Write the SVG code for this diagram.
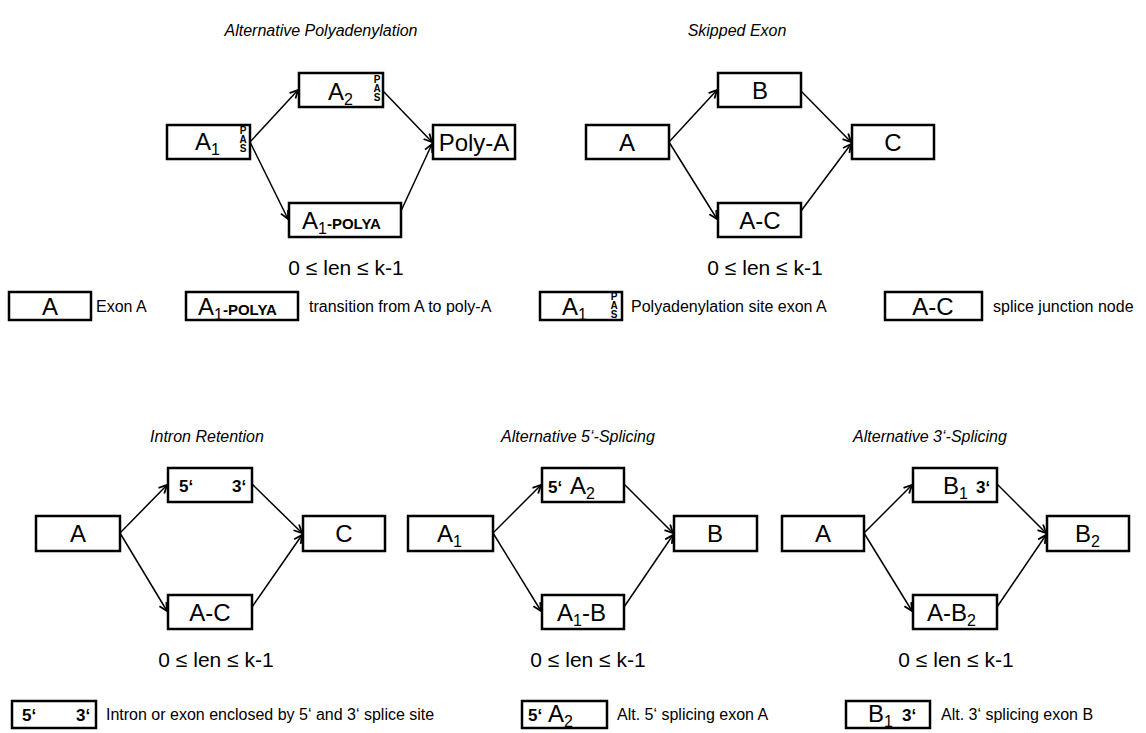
<svg xmlns="http://www.w3.org/2000/svg" width="1146" height="733" viewBox="0 0 1146 733">
<defs>
<style>
.bg{fill:#fff}
.box{fill:#fff;stroke:#000;stroke-width:2.5}
.lbl{font-family:"Liberation Sans",Arial,sans-serif;font-size:24px;fill:#000}
.mid{text-anchor:middle}
.pas{font-family:"Liberation Sans",Arial,sans-serif;font-size:10px;font-weight:bold;text-anchor:middle;fill:#000}
.ss{font-family:"Liberation Sans",Arial,sans-serif;font-size:17px;font-weight:bold;fill:#000}
.py{font-family:"Liberation Sans",Arial,sans-serif;font-size:15px;font-weight:bold}
.title{font-family:"Liberation Sans",Arial,sans-serif;font-size:16px;font-style:italic;text-anchor:middle;fill:#000}
.len{font-family:"Liberation Sans",Arial,sans-serif;font-size:21px;text-anchor:middle;fill:#000}
.leg{font-family:"Liberation Sans",Arial,sans-serif;font-size:16px;fill:#000}
.edge{stroke:#000;stroke-width:1.5;fill:none;marker-end:url(#arr)}
</style>
<marker id="arr" viewBox="0 0 10 10" refX="9" refY="5" markerWidth="10" markerHeight="10" orient="auto" markerUnits="userSpaceOnUse">
<path d="M1,1 L9,5 L1,9" fill="none" stroke="#000" stroke-width="1.8"/>
</marker>
</defs>
<rect class="bg" x="0" y="0" width="1146" height="733"/>

<g id="titles">
<text class="title" x="321" y="36">Alternative Polyadenylation</text>
<text class="title" x="737" y="36">Skipped Exon</text>
<text class="title" x="207" y="442">Intron Retention</text>
<text class="title" x="578" y="442">Alternative 5‘-Splicing</text>
<text class="title" x="930" y="442">Alternative 3‘-Splicing</text>
<text class="len" x="346" y="275">0 ≤ len ≤ k-1</text>
<text class="len" x="765" y="275">0 ≤ len ≤ k-1</text>
<text class="len" x="216" y="667">0 ≤ len ≤ k-1</text>
<text class="len" x="588" y="667">0 ≤ len ≤ k-1</text>
<text class="len" x="956" y="667">0 ≤ len ≤ k-1</text>
</g>

<g id="connectors">
<line class="edge" x1="250" y1="142" x2="298" y2="90"/>
<line class="edge" x1="250" y1="142" x2="288" y2="219"/>
<line class="edge" x1="383" y1="91" x2="432" y2="142"/>
<line class="edge" x1="401" y1="211" x2="432" y2="144"/>

<line class="edge" x1="669" y1="142" x2="717" y2="90"/>
<line class="edge" x1="669" y1="142" x2="717" y2="219"/>
<line class="edge" x1="801" y1="91" x2="851" y2="142"/>
<line class="edge" x1="801" y1="211" x2="851" y2="144"/>

<line class="edge" x1="120" y1="533" x2="167" y2="485"/>
<line class="edge" x1="120" y1="533" x2="167" y2="611"/>
<line class="edge" x1="252" y1="484" x2="302" y2="533"/>
<line class="edge" x1="252" y1="607" x2="302" y2="535"/>

<line class="edge" x1="493" y1="533" x2="541" y2="485"/>
<line class="edge" x1="493" y1="533" x2="541" y2="611"/>
<line class="edge" x1="624" y1="484" x2="673" y2="533"/>
<line class="edge" x1="624" y1="607" x2="673" y2="535"/>

<line class="edge" x1="864" y1="533" x2="912" y2="485"/>
<line class="edge" x1="864" y1="533" x2="912" y2="611"/>
<line class="edge" x1="997" y1="484" x2="1046" y2="533"/>
<line class="edge" x1="997" y1="607" x2="1046" y2="535"/>
</g>

<!-- Alternative Polyadenylation -->
<g id="apa-a1">
<rect class="box" x="167" y="125" width="83" height="34"/>
<text class="lbl" x="195" y="150">A<tspan dy="5" font-size="16">1</tspan></text>
<text class="pas" x="243" y="134">P</text>
<text class="pas" x="243" y="143">A</text>
<text class="pas" x="243" y="152">S</text>
</g>
<g id="apa-a2">
<rect class="box" x="299" y="73" width="84" height="34"/>
<text class="lbl" x="328" y="100">A<tspan dy="5" font-size="16">2</tspan></text>
<text class="pas" x="377" y="83">P</text>
<text class="pas" x="377" y="92">A</text>
<text class="pas" x="377" y="101">S</text>
</g>
<g id="apa-polya">
<rect class="box" x="433" y="125" width="82" height="34"/>
<text class="lbl mid" x="474" y="151">Poly-A</text>
</g>
<g id="apa-a1polya">
<rect class="box" x="289" y="203" width="112" height="34"/>
<text class="lbl" x="302" y="229">A<tspan dy="5" font-size="16">1</tspan><tspan dy="-5" class="py">-POLYA</tspan></text>
</g>

<!-- Skipped Exon -->
<g id="se-a">
<rect class="box" x="586" y="125" width="83" height="34"/>
<text class="lbl mid" x="627" y="151">A</text>
</g>
<g id="se-b">
<rect class="box" x="718" y="73" width="83" height="34"/>
<text class="lbl mid" x="760" y="99">B</text>
</g>
<g id="se-c">
<rect class="box" x="852" y="125" width="82" height="34"/>
<text class="lbl mid" x="893" y="151">C</text>
</g>
<g id="se-ac">
<rect class="box" x="718" y="203" width="83" height="34"/>
<text class="lbl mid" x="760" y="229">A-C</text>
</g>

<!-- Intron Retention -->
<g id="ir-a">
<rect class="box" x="36" y="516" width="84" height="35"/>
<text class="lbl mid" x="78" y="542">A</text>
</g>
<g id="ir-53">
<rect class="box" x="168" y="468" width="84" height="34"/>
<text class="ss" x="179" y="492">5‘</text>
<text class="ss" x="232" y="492">3‘</text>
</g>
<g id="ir-c">
<rect class="box" x="303" y="516" width="82" height="35"/>
<text class="lbl mid" x="344" y="542">C</text>
</g>
<g id="ir-ac">
<rect class="box" x="168" y="595" width="84" height="34"/>
<text class="lbl mid" x="210" y="621">A-C</text>
</g>

<!-- Alternative 5' Splicing -->
<g id="a5-a1">
<rect class="box" x="408" y="516" width="85" height="35"/>
<text class="lbl" x="437" y="542">A<tspan dy="5" font-size="16">1</tspan></text>
</g>
<g id="a5-5a2">
<rect class="box" x="542" y="468" width="82" height="34"/>
<text class="ss" x="548" y="493">5‘</text>
<text class="lbl" x="570" y="494">A<tspan dy="5" font-size="16">2</tspan></text>
</g>
<g id="a5-b">
<rect class="box" x="674" y="516" width="83" height="35"/>
<text class="lbl mid" x="715" y="542">B</text>
</g>
<g id="a5-a1b">
<rect class="box" x="542" y="595" width="82" height="34"/>
<text class="lbl" x="557" y="621">A<tspan dy="5" font-size="16">1</tspan><tspan dy="-5">-B</tspan></text>
</g>

<!-- Alternative 3' Splicing -->
<g id="a3-a">
<rect class="box" x="782" y="516" width="82" height="35"/>
<text class="lbl mid" x="823" y="542">A</text>
</g>
<g id="a3-b13">
<rect class="box" x="913" y="468" width="84" height="34"/>
<text class="lbl" x="943" y="494">B<tspan dy="5" font-size="16">1</tspan></text>
<text class="ss" x="976" y="493">3‘</text>
</g>
<g id="a3-b2">
<rect class="box" x="1047" y="516" width="82" height="35"/>
<text class="lbl" x="1075" y="542">B<tspan dy="5" font-size="16">2</tspan></text>
</g>
<g id="a3-ab2">
<rect class="box" x="913" y="595" width="84" height="34"/>
<text class="lbl" x="927" y="621">A-B<tspan dy="5" font-size="16">2</tspan></text>
</g>

<!-- Legend row 1 -->
<g id="leg-exon">
<rect class="box" x="9" y="292" width="82" height="28"/>
<text class="lbl mid" x="50" y="315">A</text>
<text class="leg" x="96" y="312">Exon A</text>
</g>
<g id="leg-polya">
<rect class="box" x="186" y="292" width="112" height="28"/>
<text class="lbl" x="198" y="315">A<tspan dy="5" font-size="16">1</tspan><tspan dy="-5" class="py">-POLYA</tspan></text>
<text class="leg" x="309" y="312">transition from A to poly-A</text>
</g>
<g id="leg-pas">
<rect class="box" x="540" y="292" width="82" height="28"/>
<text class="lbl" x="562" y="315">A<tspan dy="5" font-size="16">1</tspan></text>
<text class="pas" x="614" y="300">P</text>
<text class="pas" x="614" y="309">A</text>
<text class="pas" x="614" y="318">S</text>
<text class="leg" x="631" y="312">Polyadenylation site exon A</text>
</g>
<g id="leg-junction">
<rect class="box" x="885" y="292" width="97" height="28"/>
<text class="lbl mid" x="933" y="315">A-C</text>
<text class="leg" x="993" y="312">splice junction node</text>
</g>

<!-- Legend row 2 -->
<g id="leg-53">
<rect class="box" x="12" y="701" width="84" height="27"/>
<text class="ss" x="22" y="721">5‘</text>
<text class="ss" x="76" y="721">3‘</text>
<text class="leg" x="106" y="720">Intron or exon enclosed by 5‘ and 3‘ splice site</text>
</g>
<g id="leg-5a2">
<rect class="box" x="522" y="701" width="85" height="27"/>
<text class="ss" x="528" y="721">5‘</text>
<text class="lbl" x="548" y="722">A<tspan dy="5" font-size="16">2</tspan></text>
<text class="leg" x="617" y="720">Alt. 5‘ splicing exon A</text>
</g>
<g id="leg-b13">
<rect class="box" x="846" y="701" width="84" height="27"/>
<text class="lbl" x="868" y="722">B<tspan dy="5" font-size="16">1</tspan></text>
<text class="ss" x="902" y="721">3‘</text>
<text class="leg" x="941" y="720">Alt. 3‘ splicing exon B</text>
</g>
</svg>
